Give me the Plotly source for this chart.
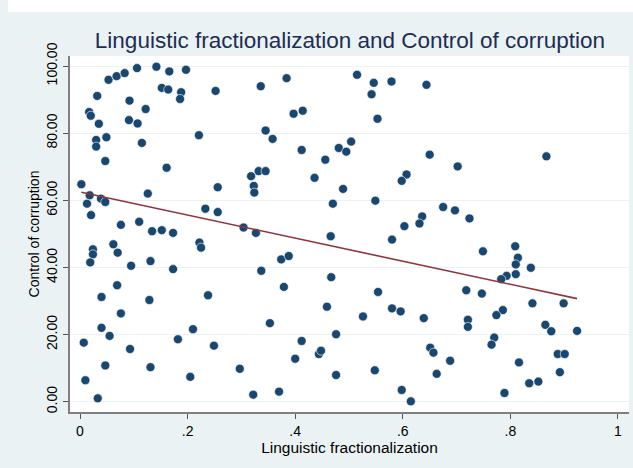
import plotly.graph_objects as go

# Linguistic fractionalization (x) and Control of corruption (y)
ling_frac = [
    0.0025, 0.0205, 0.013, 0.018, 0.039, 0.047, 0.047, 0.030, 0.030, 0.049,
    0.035, 0.017, 0.020, 0.032, 0.053, 0.068, 0.083, 0.106, 0.142, 0.166,
    0.197, 0.152, 0.164, 0.188, 0.186, 0.252, 0.092, 0.122, 0.091, 0.107,
    0.115, 0.221, 0.161, 0.256, 0.126, 0.233, 0.256, 0.076, 0.110, 0.134,
    0.152, 0.173, 0.222, 0.225, 0.024, 0.024, 0.019, 0.062, 0.070, 0.095,
    0.131, 0.173, 0.069, 0.040, 0.129, 0.238, 0.076, 0.040, 0.055, 0.007,
    0.093, 0.210, 0.182, 0.249, 0.047, 0.131, 0.010, 0.205, 0.033, 0.297,
    0.336, 0.384, 0.515, 0.546, 0.579, 0.644, 0.542, 0.397, 0.414, 0.553,
    0.345, 0.358, 0.412, 0.481, 0.495, 0.504, 0.456, 0.650, 0.318, 0.332,
    0.345, 0.323, 0.324, 0.436, 0.489, 0.470, 0.549, 0.607, 0.598, 0.636,
    0.631, 0.603, 0.304, 0.327, 0.466, 0.580, 0.374, 0.388, 0.337, 0.467,
    0.379, 0.554, 0.459, 0.580, 0.596, 0.526, 0.639, 0.353, 0.476, 0.412,
    0.444, 0.448, 0.400, 0.651, 0.476, 0.548, 0.322, 0.370, 0.598, 0.615,
    0.702, 0.867, 0.675, 0.697, 0.724, 0.749, 0.809, 0.814, 0.810, 0.810,
    0.838, 0.793, 0.783, 0.718, 0.747, 0.841, 0.899, 0.721, 0.721, 0.786,
    0.774, 0.865, 0.876, 0.924, 0.770, 0.765, 0.657, 0.688, 0.663, 0.816,
    0.888, 0.901, 0.892, 0.835, 0.852, 0.789,
]
control_corruption = [
    64.8, 55.6, 59.0, 61.5, 60.5, 59.5, 71.7, 78.0, 76.0, 78.8,
    82.8, 86.3, 85.2, 91.1, 95.9, 97.0, 97.9, 99.4, 99.8, 98.4,
    98.9, 93.5, 93.0, 92.2, 90.2, 92.6, 89.7, 87.2, 83.9, 82.9,
    77.1, 79.4, 69.7, 63.9, 62.0, 57.5, 56.5, 52.7, 53.6, 50.8,
    51.1, 50.3, 47.4, 45.9, 45.4, 43.9, 41.5, 46.9, 44.4, 40.5,
    41.9, 39.5, 34.7, 31.2, 30.3, 31.7, 26.3, 22.0, 19.6, 17.6,
    15.7, 21.6, 18.6, 16.7, 10.8, 10.3, 6.4, 7.4, 1.0, 9.8,
    94.0, 96.4, 97.4, 95.0, 95.4, 94.4, 91.6, 85.8, 86.7, 84.3,
    80.8, 78.3, 75.0, 75.6, 74.5, 77.5, 72.1, 73.6, 67.2, 68.7,
    68.7, 64.3, 62.3, 66.7, 63.4, 59.0, 59.9, 67.7, 65.8, 55.2,
    53.1, 52.3, 51.9, 50.3, 49.3, 48.3, 42.4, 43.4, 39.0, 37.1,
    34.2, 32.7, 28.3, 27.8, 26.9, 25.4, 24.9, 23.4, 20.1, 18.1,
    14.2, 15.2, 12.8, 16.1, 7.95, 9.35, 2.1, 3.0, 3.5, 0.1,
    70.1, 73.1, 58.0, 57.0, 54.6, 44.8, 46.3, 42.9, 40.9, 38.0,
    39.9, 37.5, 36.5, 33.2, 32.2, 29.3, 29.3, 24.4, 22.3, 27.3,
    25.8, 22.9, 21.0, 21.1, 19.1, 17.0, 14.6, 12.2, 8.3, 11.7,
    14.2, 14.2, 8.8, 5.5, 6.0, 2.6,
]

# Fitted line
fit_intercept = 62.5
fit_slope = -34.4

x_ticks = [0, 0.2, 0.4, 0.6, 0.8, 1]
x_tick_labels = ["0", ".2", ".4", ".6", ".8", "1"]
y_ticks = [0, 20, 40, 60, 80, 100]
y_tick_labels = ["0.00", "20.00", "40.00", "60.00", "80.00", "100.00"]

fit_x = [min(ling_frac), max(ling_frac)]
fit_y = [fit_intercept + fit_slope * v for v in fit_x]

W, H = 633, 468
ML, MR, MT, MB = 70, 4, 56, 56
BG = "#EAF2F3"
FONT = "Liberation Sans, Arial, sans-serif"

fig = go.Figure()
fig.add_trace(go.Scatter(
    x=ling_frac, y=control_corruption, mode="markers",
    marker=dict(color="#1A476F", size=9, line=dict(color="white", width=0.6)),
    showlegend=False, hoverinfo="x+y",
))
fig.add_trace(go.Scatter(
    x=fit_x, y=fit_y, mode="lines",
    line=dict(color="#90353B", width=1.6),
    showlegend=False,
))

# white strip at the very top of the image
pw = W - ML - MR
ph = H - MT - MB
fig.add_shape(type="rect", xref="paper", yref="paper",
              x0=(8 - ML) / pw, x1=(W - ML) / pw,
              y0=(H - MB - 12) / ph, y1=(H - MB) / ph + 0.01,
              fillcolor="white", line=dict(width=0), layer="below")

fig.update_layout(
    width=W, height=H,
    margin=dict(l=ML, r=MR, t=MT, b=MB, autoexpand=False),
    paper_bgcolor=BG, plot_bgcolor="white",
    font=dict(family=FONT, color="black", size=14),
    title=dict(text="Linguistic fractionalization and Control of corruption",
               x=350 / W, xanchor="center", y=1 - 40 / H, yanchor="middle",
               font=dict(size=22.5, color="#1E2D53", family=FONT)),
    xaxis=dict(
        range=[-0.0186, 1.0205], tickmode="array", tickvals=x_ticks, ticktext=x_tick_labels,
        showgrid=False, zeroline=False, automargin=False,
        showline=True, linecolor="#7F7F7F", linewidth=2,
        ticks="outside", ticklen=5, tickwidth=1, tickcolor="#555555",
        tickfont=dict(size=14, color="black"),
        title=dict(text="Linguistic fractionalization", font=dict(size=15.5, color="black"), standoff=2),
    ),
    yaxis=dict(
        range=[-3.07, 103.0], tickmode="array", tickvals=y_ticks, ticktext=y_tick_labels,
        showgrid=True, gridcolor=BG, gridwidth=1, zeroline=False, automargin=False,
        showline=True, linecolor="#7F7F7F", linewidth=2,
        ticks="outside", ticklen=5, tickwidth=1, tickcolor="#555555",
        tickangle=-90,
        tickfont=dict(size=14, color="black"),
        title=dict(text="Control of corruption", font=dict(size=14, color="black"), standoff=2),
    ),
)

fig.write_html("out.html", config={"displayModeBar": False},
               post_script="document.body.style.margin='0';")
